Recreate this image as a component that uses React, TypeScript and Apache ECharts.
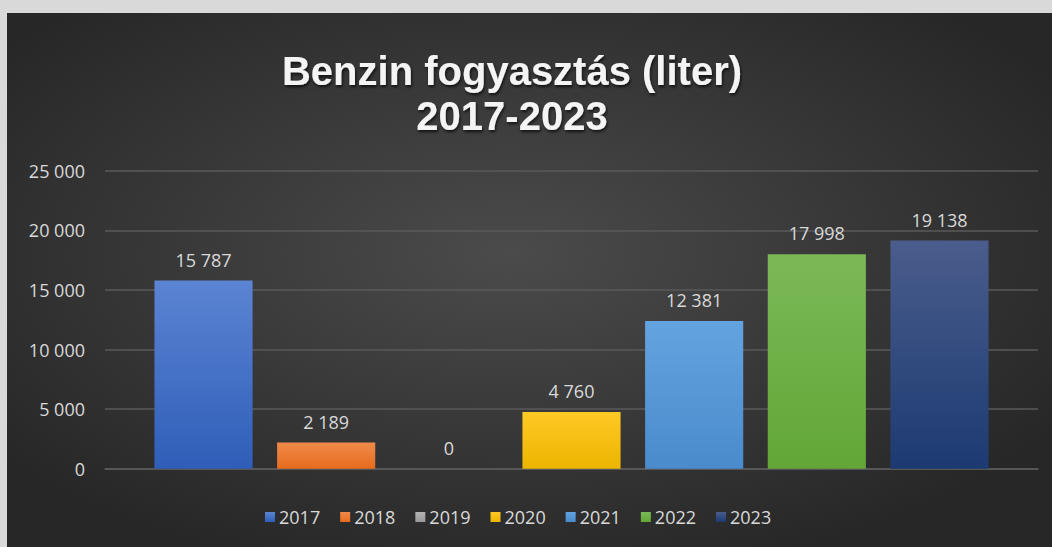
import React, { useEffect, useRef } from "react";
import * as echarts from "echarts";

const years = ["2017", "2018", "2019", "2020", "2021", "2022", "2023"];
const values = [15787, 2189, 0, 4760, 12381, 17998, 19138];
const topColors = ["#5b84d3", "#f08a4b", "#b3b3b3", "#ffc926", "#63a3df", "#7bb957", "#4a5d8c"];
const bottomColors = ["#2f5eb8", "#e66c1d", "#999999", "#ecb500", "#4a8bcc", "#63a637", "#1c3a72"];
const yTicks = [0, 5000, 10000, 15000, 20000, 25000];

const fmt = (v: number) => String(v).replace(/\B(?=(\d{3})+(?!\d))/g, " ");

export default function App() {
  const ref = useRef<HTMLDivElement>(null);
  useEffect(() => {
    document.body.style.margin = "0";
    const chart = echarts.init(ref.current!, null, { renderer: "svg" });
    const font = "'Open Sans', 'Noto Sans', sans-serif";
    const titleStyle = {
      color: "#f4f4f4",
      fontFamily: "'Liberation Sans', Arial, sans-serif",
      fontWeight: "bold",
      fontSize: 40,
      lineHeight: 45,
      textShadowColor: "rgba(0,0,0,0.7)",
      textShadowBlur: 3,
      textShadowOffsetX: 1,
      textShadowOffsetY: 2,
    };
    chart.setOption({
      animation: false,
      backgroundColor: "transparent",
      graphic: [
        {
          type: "rect",
          silent: true,
          z: -10,
          shape: { x: 0, y: 0, width: 1045, height: 534 },
          style: {
            fill: new echarts.graphic.RadialGradient(0.48, 0.45, 0.62, [
              { offset: 0, color: "#4b4b4b" },
              { offset: 1, color: "#272727" },
            ]),
          },
        },
      ],
      title: {
        text: "Benzin fogyasztás (liter)",
        subtext: "2017-2023",
        left: 500,
        top: 30,
        itemGap: 0,
        textAlign: "center",
        textStyle: titleStyle,
        subtextStyle: titleStyle,
      },
      legend: {
        data: years,
        left: 253,
        top: 490,
        itemWidth: 10,
        itemHeight: 10,
        itemGap: 20,
        icon: "rect",
        textStyle: { color: "#d9d9d9", fontFamily: font, fontSize: 18, padding: [0, 0, 0, -1] },
      },
      grid: { left: 98, right: 14, top: 157.7, bottom: 78.3, containLabel: false },
      xAxis: {
        type: "category",
        data: [""],
        axisLine: { show: true, lineStyle: { color: "#5a5a5a", width: 1.5 } },
        axisTick: { show: false },
        axisLabel: { show: false },
      },
      yAxis: {
        type: "value",
        min: yTicks[0],
        max: yTicks[yTicks.length - 1],
        interval: 5000,
        axisLine: { show: false },
        axisTick: { show: false },
        splitLine: { lineStyle: { color: "#5a5a5a", width: 1.5 } },
        axisLabel: {
          color: "#d9d9d9",
          fontFamily: font,
          fontSize: 18,
          margin: 20,
          formatter: (v: number) => fmt(v),
        },
      },
      series: years.map((y, i) => ({
        name: y,
        type: "bar",
        data: [values[i]],
        barGap: "25%",
        barCategoryGap: "10.6%",
        itemStyle: {
          color: new echarts.graphic.LinearGradient(0, 0, 0, 1, [
            { offset: 0, color: topColors[i] },
            { offset: 1, color: bottomColors[i] },
          ]),
        },
        label: {
          show: true,
          position: "top",
          distance: 12,
          color: "#d9d9d9",
          fontFamily: font,
          fontSize: 18,
          formatter: (p: any) => fmt(p.value),
        },
      })),
    });
    return () => chart.dispose();
  }, []);
  return (
    <div style={{ position: "fixed", left: 0, top: 0, width: 1052, height: 547, background: "#d9d9d9" }}>
      <div ref={ref} style={{ position: "absolute", left: 7, top: 13, width: 1045, height: 534 }} />
    </div>
  );
}
